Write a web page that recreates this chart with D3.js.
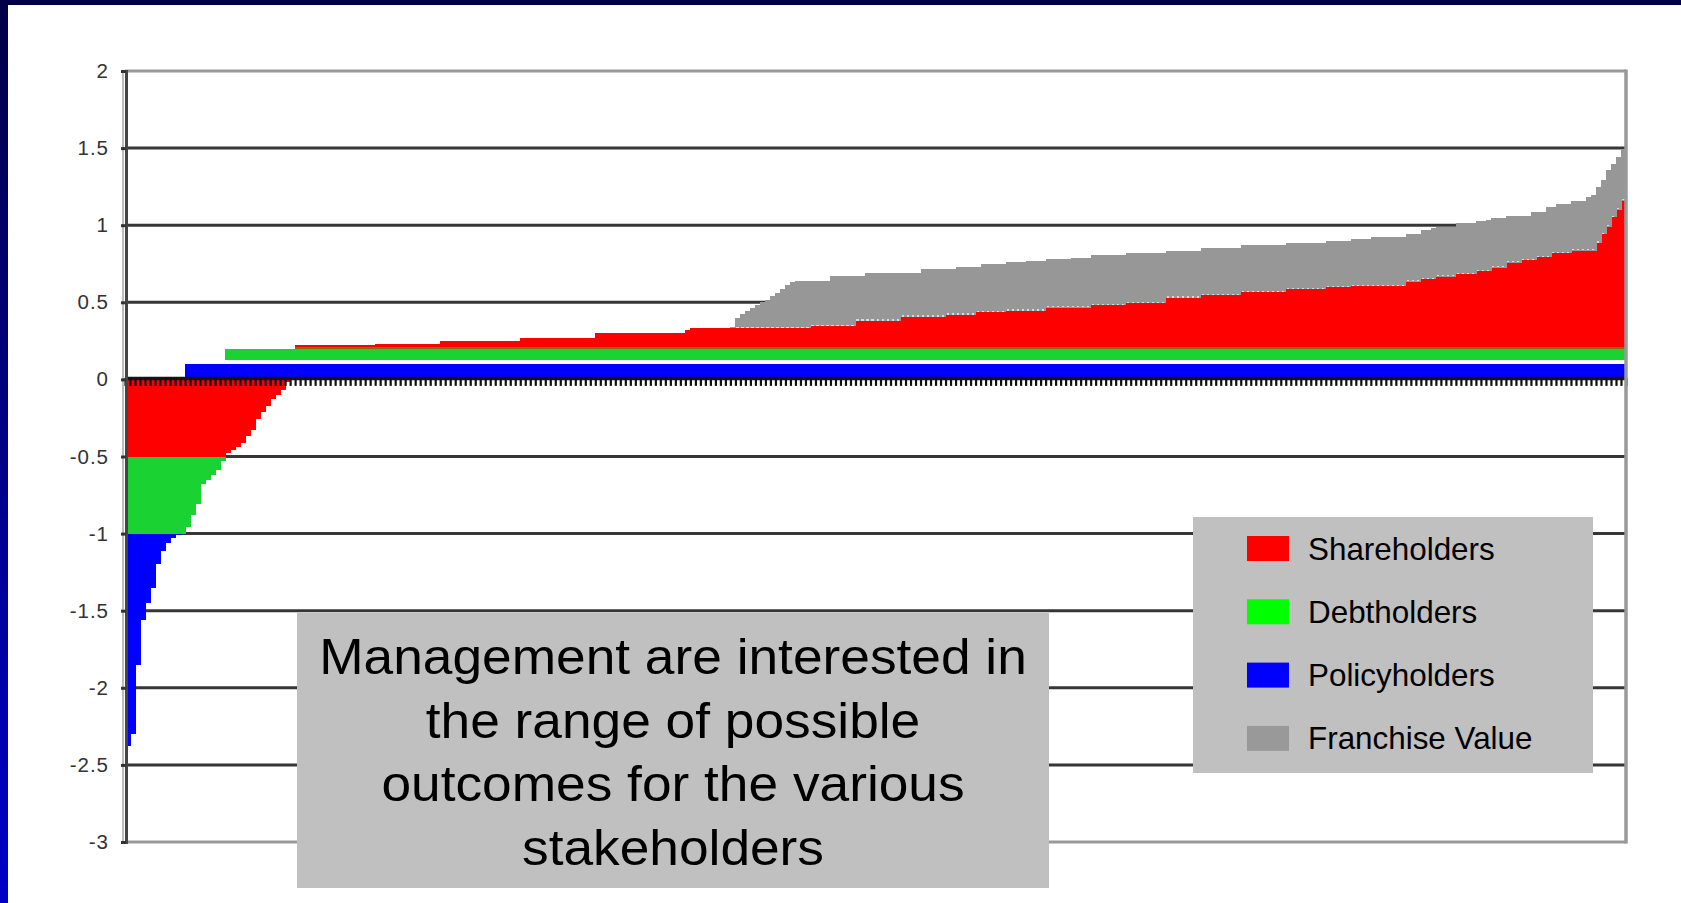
<!DOCTYPE html>
<html>
<head>
<meta charset="utf-8">
<script src="https://cdn.jsdelivr.net/npm/d3@7"></script>
<style>
  html, body { margin: 0; padding: 0; background: #ffffff; overflow: hidden; }
  svg { display: block; }
</style>
</head>
<body>
<svg id="chart" width="1681" height="903"></svg>
<script>
// ---------------------------------------------------------------
// Stakeholder outcomes per simulated scenario (sorted worst to best)
// ---------------------------------------------------------------
const scenarios = d3.range(1, 301);

const policyholders = [
  -1.38,-1.30,-0.85,-0.56,-0.45,-0.35,-0.20,-0.11,-0.06,-0.03,-0.01,0,0.1,0.1,0.1,0.1,0.1,0.1,0.1,0.1,
  0.1,0.1,0.1,0.1,0.1,0.1,0.1,0.1,0.1,0.1,0.1,0.1,0.1,0.1,0.1,0.1,0.1,0.1,0.1,0.1,
  0.1,0.1,0.1,0.1,0.1,0.1,0.1,0.1,0.1,0.1,0.1,0.1,0.1,0.1,0.1,0.1,0.1,0.1,0.1,0.1,
  0.1,0.1,0.1,0.1,0.1,0.1,0.1,0.1,0.1,0.1,0.1,0.1,0.1,0.1,0.1,0.1,0.1,0.1,0.1,0.1,
  0.1,0.1,0.1,0.1,0.1,0.1,0.1,0.1,0.1,0.1,0.1,0.1,0.1,0.1,0.1,0.1,0.1,0.1,0.1,0.1,
  0.1,0.1,0.1,0.1,0.1,0.1,0.1,0.1,0.1,0.1,0.1,0.1,0.1,0.1,0.1,0.1,0.1,0.1,0.1,0.1,
  0.1,0.1,0.1,0.1,0.1,0.1,0.1,0.1,0.1,0.1,0.1,0.1,0.1,0.1,0.1,0.1,0.1,0.1,0.1,0.1,
  0.1,0.1,0.1,0.1,0.1,0.1,0.1,0.1,0.1,0.1,0.1,0.1,0.1,0.1,0.1,0.1,0.1,0.1,0.1,0.1,
  0.1,0.1,0.1,0.1,0.1,0.1,0.1,0.1,0.1,0.1,0.1,0.1,0.1,0.1,0.1,0.1,0.1,0.1,0.1,0.1,
  0.1,0.1,0.1,0.1,0.1,0.1,0.1,0.1,0.1,0.1,0.1,0.1,0.1,0.1,0.1,0.1,0.1,0.1,0.1,0.1,
  0.1,0.1,0.1,0.1,0.1,0.1,0.1,0.1,0.1,0.1,0.1,0.1,0.1,0.1,0.1,0.1,0.1,0.1,0.1,0.1,
  0.1,0.1,0.1,0.1,0.1,0.1,0.1,0.1,0.1,0.1,0.1,0.1,0.1,0.1,0.1,0.1,0.1,0.1,0.1,0.1,
  0.1,0.1,0.1,0.1,0.1,0.1,0.1,0.1,0.1,0.1,0.1,0.1,0.1,0.1,0.1,0.1,0.1,0.1,0.1,0.1,
  0.1,0.1,0.1,0.1,0.1,0.1,0.1,0.1,0.1,0.1,0.1,0.1,0.1,0.1,0.1,0.1,0.1,0.1,0.1,0.1,
  0.1,0.1,0.1,0.1,0.1,0.1,0.1,0.1,0.1,0.1,0.1,0.1,0.1,0.1,0.1,0.1,0.1,0.1,0.1,0.1
];

const debtholders = [
  -0.5,-0.5,-0.5,-0.5,-0.5,-0.5,-0.5,-0.5,-0.5,-0.5,-0.5,-0.5,-0.455,-0.38,-0.31,-0.18,-0.15,-0.12,-0.09,-0.03,
  0.1,0.1,0.1,0.1,0.1,0.1,0.1,0.1,0.1,0.1,0.1,0.1,0.1,0.1,0.1,0.1,0.1,0.1,0.1,0.1,
  0.1,0.1,0.1,0.1,0.1,0.1,0.1,0.1,0.1,0.1,0.1,0.1,0.1,0.1,0.1,0.1,0.1,0.1,0.1,0.1,
  0.1,0.1,0.1,0.1,0.1,0.1,0.1,0.1,0.1,0.1,0.1,0.1,0.1,0.1,0.1,0.1,0.1,0.1,0.1,0.1,
  0.1,0.1,0.1,0.1,0.1,0.1,0.1,0.1,0.1,0.1,0.1,0.1,0.1,0.1,0.1,0.1,0.1,0.1,0.1,0.1,
  0.1,0.1,0.1,0.1,0.1,0.1,0.1,0.1,0.1,0.1,0.1,0.1,0.1,0.1,0.1,0.1,0.1,0.1,0.1,0.1,
  0.1,0.1,0.1,0.1,0.1,0.1,0.1,0.1,0.1,0.1,0.1,0.1,0.1,0.1,0.1,0.1,0.1,0.1,0.1,0.1,
  0.1,0.1,0.1,0.1,0.1,0.1,0.1,0.1,0.1,0.1,0.1,0.1,0.1,0.1,0.1,0.1,0.1,0.1,0.1,0.1,
  0.1,0.1,0.1,0.1,0.1,0.1,0.1,0.1,0.1,0.1,0.1,0.1,0.1,0.1,0.1,0.1,0.1,0.1,0.1,0.1,
  0.1,0.1,0.1,0.1,0.1,0.1,0.1,0.1,0.1,0.1,0.1,0.1,0.1,0.1,0.1,0.1,0.1,0.1,0.1,0.1,
  0.1,0.1,0.1,0.1,0.1,0.1,0.1,0.1,0.1,0.1,0.1,0.1,0.1,0.1,0.1,0.1,0.1,0.1,0.1,0.1,
  0.1,0.1,0.1,0.1,0.1,0.1,0.1,0.1,0.1,0.1,0.1,0.1,0.1,0.1,0.1,0.1,0.1,0.1,0.1,0.1,
  0.1,0.1,0.1,0.1,0.1,0.1,0.1,0.1,0.1,0.1,0.1,0.1,0.1,0.1,0.1,0.1,0.1,0.1,0.1,0.1,
  0.1,0.1,0.1,0.1,0.1,0.1,0.1,0.1,0.1,0.1,0.1,0.1,0.1,0.1,0.1,0.1,0.1,0.1,0.1,0.1,
  0.1,0.1,0.1,0.1,0.1,0.1,0.1,0.1,0.1,0.1,0.1,0.1,0.1,0.1,0.1,0.1,0.1,0.1,0.1,0.1
];

const shareholders = [
  -0.5,-0.5,-0.5,-0.5,-0.5,-0.5,-0.5,-0.5,-0.5,-0.5,-0.5,-0.5,-0.5,-0.5,-0.5,-0.5,-0.5,-0.5,-0.5,-0.5,
  -0.48,-0.46,-0.44,-0.41,-0.37,-0.33,-0.26,-0.21,-0.17,-0.13,-0.10,-0.07,-0.02,0,0.02,0.02,0.02,0.02,0.02,0.02,
  0.02,0.02,0.02,0.02,0.02,0.02,0.02,0.02,0.02,0.02,0.032,0.032,0.032,0.032,0.032,0.032,0.032,0.032,0.032,0.032,
  0.032,0.032,0.032,0.05,0.05,0.05,0.05,0.05,0.05,0.05,0.05,0.05,0.05,0.05,0.05,0.05,0.05,0.05,0.05,0.07,
  0.07,0.07,0.07,0.07,0.07,0.07,0.07,0.07,0.07,0.07,0.07,0.07,0.07,0.07,0.098,0.098,0.098,0.098,0.098,0.098,
  0.098,0.098,0.098,0.098,0.098,0.098,0.098,0.098,0.098,0.098,0.098,0.098,0.12,0.131,0.131,0.131,0.131,0.131,0.131,0.131,
  0.131,0.131,0.131,0.131,0.131,0.131,0.131,0.133,0.133,0.133,0.133,0.133,0.133,0.133,0.133,0.133,0.133,0.146,0.146,0.146,
  0.146,0.146,0.146,0.146,0.146,0.146,0.179,0.179,0.179,0.179,0.179,0.179,0.179,0.179,0.179,0.205,0.205,0.205,0.205,0.205,
  0.205,0.205,0.205,0.205,0.218,0.218,0.218,0.218,0.218,0.218,0.237,0.237,0.237,0.237,0.237,0.237,0.244,0.244,0.244,0.244,
  0.244,0.244,0.244,0.244,0.265,0.265,0.265,0.265,0.265,0.265,0.265,0.265,0.265,0.28,0.28,0.28,0.28,0.28,0.28,0.28,
  0.295,0.295,0.295,0.295,0.295,0.295,0.295,0.295,0.328,0.328,0.328,0.328,0.328,0.328,0.328,0.345,0.345,0.345,0.345,0.345,
  0.345,0.345,0.345,0.365,0.365,0.365,0.365,0.365,0.365,0.365,0.365,0.365,0.384,0.384,0.384,0.384,0.384,0.384,0.384,0.384,
  0.397,0.397,0.397,0.397,0.397,0.404,0.404,0.404,0.404,0.404,0.404,0.404,0.404,0.404,0.404,0.404,0.434,0.434,0.434,0.449,
  0.449,0.449,0.466,0.466,0.466,0.466,0.483,0.483,0.483,0.483,0.501,0.501,0.501,0.524,0.524,0.524,0.557,0.557,0.557,0.574,
  0.574,0.574,0.592,0.592,0.592,0.618,0.618,0.618,0.618,0.635,0.635,0.635,0.635,0.635,0.685,0.74,0.79,0.85,0.90,0.96
];

const franchiseValue = [
  0,0,0,0,0,0,0,0,0,0,0,0,0,0,0,0,0,0,0,0,
  0,0,0,0,0,0,0,0,0,0,0,0,0,0,0,0,0,0,0,0,
  0,0,0,0,0,0,0,0,0,0,0,0,0,0,0,0,0,0,0,0,
  0,0,0,0,0,0,0,0,0,0,0,0,0,0,0,0,0,0,0,0,
  0,0,0,0,0,0,0,0,0,0,0,0,0,0,0,0,0,0,0,0,
  0,0,0,0,0,0,0,0,0,0,0,0,0,0,0,0,0,0,0,0,
  0,0.01,0.07,0.09,0.11,0.13,0.15,0.17,0.182,0.207,0.227,0.253,0.279,0.299,0.307,0.307,0.307,0.294,0.294,0.294,
  0.294,0.326,0.326,0.326,0.326,0.326,0.293,0.293,0.313,0.313,0.313,0.313,0.313,0.313,0.313,0.287,0.287,0.287,0.287,0.309,
  0.309,0.309,0.309,0.309,0.296,0.296,0.313,0.313,0.313,0.313,0.294,0.311,0.311,0.311,0.311,0.311,0.315,0.315,0.315,0.315,
  0.323,0.323,0.323,0.323,0.315,0.315,0.315,0.315,0.315,0.325,0.325,0.325,0.325,0.325,0.325,0.325,0.325,0.325,0.325,0.325,
  0.325,0.325,0.325,0.325,0.325,0.325,0.325,0.325,0.307,0.307,0.307,0.307,0.307,0.307,0.307,0.305,0.305,0.305,0.305,0.305,
  0.305,0.305,0.305,0.305,0.305,0.305,0.305,0.305,0.305,0.305,0.305,0.305,0.303,0.303,0.303,0.303,0.303,0.303,0.303,0.303,
  0.303,0.303,0.303,0.303,0.303,0.304,0.304,0.304,0.304,0.321,0.321,0.321,0.321,0.321,0.321,0.321,0.309,0.309,0.309,0.32,
  0.32,0.33,0.324,0.324,0.324,0.324,0.329,0.329,0.329,0.329,0.329,0.329,0.335,0.321,0.321,0.321,0.303,0.303,0.303,0.286,
  0.286,0.314,0.296,0.296,0.324,0.298,0.319,0.319,0.319,0.324,0.324,0.324,0.345,0.361,0.365,0.35,0.37,0.35,0.34,0.325
];

const seriesNames  = ["Shareholders", "Debtholders", "Policyholders", "Franchise Value"];
const seriesValues = [shareholders, debtholders, policyholders, franchiseValue];
const barColors    = ["#ff0000", "#1ad232", "#0000ff", "#979797"];
const legendColors = ["#ff0000", "#00ff00", "#0000ff", "#999999"];

const yTickValues = [2, 1.5, 1, 0.5, 0, -0.5, -1, -1.5, -2, -2.5, -3];
const gridValues  = [1.5, 1, 0.5, -0.5, -1, -1.5, -2, -2.5];

const noteLines = [
  "Management are interested in",
  "the range of possible",
  "outcomes for the various",
  "stakeholders"
];

// ---------------------------------------------------------------
// Layout
// ---------------------------------------------------------------
const W = 1681, H = 903;
const plot = { left: 125, right: 1626, top: 71, bottom: 842 };
const FONT = "'Liberation Sans', Arial, Helvetica, sans-serif";

const svg = d3.select("#chart");

// slide frame: navy gradient behind a white page
const defs = svg.append("defs");
const grad = defs.append("linearGradient")
  .attr("id", "frameGrad").attr("x1", 0).attr("y1", 0).attr("x2", 0).attr("y2", 1);
grad.append("stop").attr("offset", "0%").attr("stop-color", "#000046");
grad.append("stop").attr("offset", "100%").attr("stop-color", "#0000c8");
svg.append("rect").attr("width", W).attr("height", H).attr("fill", "url(#frameGrad)");
svg.append("rect").attr("x", 8).attr("y", 5).attr("width", W - 8).attr("height", H - 5).attr("fill", "#ffffff");

// ---------------------------------------------------------------
// Scales
// ---------------------------------------------------------------
const x = d3.scaleBand().domain(scenarios).range([plot.left, plot.right]).paddingInner(0).paddingOuter(0);
const xEdges = d3.scaleLinear().domain([0, scenarios.length]).range([plot.left, plot.right]);
const y = d3.scaleLinear().domain([-3, 2]).range([plot.bottom, plot.top]);

// table of rows for the stack layout
const rows = scenarios.map((s, i) => {
  const r = { scenario: s };
  seriesNames.forEach((name, k) => { r[name] = seriesValues[k][i]; });
  return r;
});
const colorOf = Object.fromEntries(seriesNames.map((n, k) => [n, barColors[k]]));

// gains stack upward: policyholders, debtholders, shareholders, franchise value
const gainStack = d3.stack()
  .keys(["Policyholders", "Debtholders", "Shareholders", "Franchise Value"])
  .value((d, key) => Math.max(0, d[key]));
// losses stack downward: shareholders first, then debtholders, then policyholders
const lossStack = d3.stack()
  .keys(["Shareholders", "Debtholders", "Policyholders"])
  .value((d, key) => Math.min(0, d[key]))
  .offset(d3.stackOffsetDiverging);

// ---------------------------------------------------------------
// Gridlines
// ---------------------------------------------------------------
svg.append("g").selectAll("line").data(gridValues).join("line")
  .attr("x1", plot.left).attr("x2", plot.right)
  .attr("y1", d => y(d)).attr("y2", d => y(d))
  .attr("stroke", "#363636").attr("stroke-width", 3);

// ---------------------------------------------------------------
// Bars
// ---------------------------------------------------------------
const greenGap = 4; // thin white seam under the debtholder gains
const barLayer = svg.append("g").attr("shape-rendering", "crispEdges");

function segmentsOf(layer) {
  return layer.map((seg, i) => ({ i, y0: seg[0], y1: seg[1] }))
    .filter(s => Math.abs(s.y1 - s.y0) > 1e-9);
}

function drawLayers(layers, isGain) {
  layers.forEach(layer => {
    const key = layer.key;
    const segs = segmentsOf(layer);
    const g = barLayer.append("g");
    g.append("g").attr("fill", colorOf[key])
      .selectAll("rect").data(segs).join("rect")
      .attr("x", s => x(scenarios[s.i]))
      .attr("width", x.bandwidth() + 0.6)
      .attr("y", s => y(Math.max(s.y0, s.y1)))
      .attr("height", s => {
        let h = Math.abs(y(s.y0) - y(s.y1));
        if (isGain && key === "Debtholders") h = Math.max(0, h - greenGap);
        return h;
      });
    // dark seam where shareholder gains sit on the debtholder band
    if (isGain && key === "Shareholders") {
      g.append("g").attr("fill", "#8a6a12")
        .selectAll("rect").data(segs).join("rect")
        .attr("x", s => x(scenarios[s.i]))
        .attr("width", x.bandwidth() + 0.6)
        .attr("y", s => y(s.y0) - 2)
        .attr("height", 2);
    }
    // faint light seam under the franchise value band
    if (isGain && key === "Franchise Value") {
      g.append("g").attr("fill", "#d6dcd6")
        .selectAll("rect").data(segs.filter(s => s.y1 - s.y0 > 0.05)).join("rect")
        .attr("x", s => x(scenarios[s.i]) + 1)
        .attr("width", Math.max(1, x.bandwidth() - 2.5))
        .attr("y", s => y(s.y0) - 1.5)
        .attr("height", 1.2);
    }
  });
}
drawLayers(gainStack(rows), true);
drawLayers(lossStack(rows), false);

// ---------------------------------------------------------------
// Axes and frame
// ---------------------------------------------------------------
const xAxis = d3.axisBottom(xEdges)
  .tickValues(d3.range(scenarios.length + 1))
  .tickSizeInner(8).tickSizeOuter(0).tickFormat("");
const gx = svg.append("g").attr("transform", `translate(0,${y(0) - 1.5})`).call(xAxis);
gx.select(".domain").attr("stroke", "#161616").attr("stroke-width", 3.5);
gx.selectAll(".tick line").attr("stroke", "#111111").attr("stroke-width", 2.2);

// plot frame: top, bottom and right edges
svg.append("line").attr("x1", plot.left).attr("x2", plot.right).attr("y1", y(2)).attr("y2", y(2))
  .attr("stroke", "#9a9a9a").attr("stroke-width", 3);
svg.append("line").attr("x1", plot.left).attr("x2", plot.right).attr("y1", y(-3)).attr("y2", y(-3))
  .attr("stroke", "#9a9a9a").attr("stroke-width", 3);
svg.append("line").attr("x1", plot.right).attr("x2", plot.right).attr("y1", y(2) - 1.5).attr("y2", y(-3) + 1.5)
  .attr("stroke", "#999999").attr("stroke-width", 3.5);

// value axis
svg.append("line").attr("x1", plot.left - 2).attr("x2", plot.left - 2).attr("y1", y(2)).attr("y2", y(-3))
  .attr("stroke", "#b4b4b4").attr("stroke-width", 1.8);
const yAxis = d3.axisLeft(y).tickValues(yTickValues)
  .tickSize(5).tickPadding(12).tickFormat(d => String(d));
const gy = svg.append("g").attr("transform", `translate(${plot.left + 1},0)`).call(yAxis);
gy.select(".domain").attr("stroke", "#444444").attr("stroke-width", 3);
gy.selectAll(".tick line").attr("stroke", "#333333").attr("stroke-width", 3);
gy.selectAll(".tick text")
  .attr("font-family", FONT).attr("font-size", 20.5).attr("letter-spacing", 1)
  .attr("fill", "#333333");

// ---------------------------------------------------------------
// Legend
// ---------------------------------------------------------------
const legend = svg.append("g");
legend.append("rect").attr("x", 1193).attr("y", 517).attr("width", 400).attr("height", 256).attr("fill", "#c0c0c0");
const items = legend.selectAll("g.item").data(seriesNames).join("g").attr("class", "item")
  .attr("transform", (d, i) => `translate(1247,${536 + i * 63.3})`);
items.append("rect").attr("width", 42).attr("height", 25).attr("fill", (d, i) => legendColors[i]);
items.append("text").attr("x", 61).attr("y", 23.5)
  .attr("font-family", FONT).attr("font-size", 31.4).attr("fill", "#000000")
  .text(d => d);

// ---------------------------------------------------------------
// Note box
// ---------------------------------------------------------------
const note = svg.append("g");
note.append("rect").attr("x", 297).attr("y", 613).attr("width", 752).attr("height", 275).attr("fill", "#c0c0c0");
note.selectAll("text").data(noteLines).join("text")
  .attr("transform", (d, i) => `translate(673,${674 + i * 63.7}) scale(1.055,1)`)
  .attr("text-anchor", "middle")
  .attr("font-family", FONT).attr("font-size", 50.5).attr("fill", "#000000")
  .text(d => d);
</script>
</body>
</html>
